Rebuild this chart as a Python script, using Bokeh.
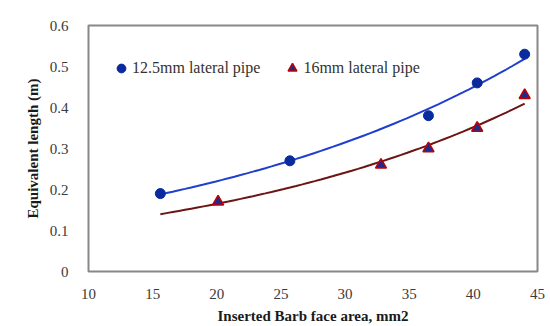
import numpy as np
from bokeh.plotting import figure
from bokeh.models import Legend, LegendItem, FixedTicker, ColumnDataSource
from bokeh.embed import file_html
from bokeh.resources import INLINE

# Data
x_125 = [15.6, 25.7, 36.5, 40.3, 44.0]
y_125 = [0.19, 0.27, 0.38, 0.46, 0.53]
x_16 = [20.1, 32.8, 36.5, 40.3, 44.0]
y_16 = [0.17, 0.26, 0.30, 0.35, 0.43]

x_ticks = [10, 15, 20, 25, 30, 35, 40, 45]
y_ticks = [0, 0.1, 0.2, 0.3, 0.4, 0.5, 0.6]
y_tick_labels = ["0", "0.1", "0.2", "0.3", "0.4", "0.5", "0.6"]

label_125 = "12.5mm lateral pipe"
label_16 = "16mm lateral pipe"
x_title = "Inserted Barb face area, mm2"
y_title = "Equivalent length (m)"

FONT = "Liberation Serif"

# Exponential trendlines fitted to the data (as in a spreadsheet trendline)
def exp_trend(xs, ys, x0, x1):
    b, a = np.polyfit(np.array(xs), np.log(np.array(ys)), 1)
    xx = np.linspace(x0, x1, 60)
    return xx, np.exp(a + b * xx)

x_lo = min(min(x_125), min(x_16))
x_hi = max(max(x_125), max(x_16))
tx1, ty1 = exp_trend(x_125, y_125, x_lo, x_hi)
tx2, ty2 = exp_trend(x_16, y_16, x_lo, x_hi)

W, H = 550, 326
BL, BR, BT, BB = 88, 13, 25, 52
XR = (10, 45)
YR = (0, 0.6)

p = figure(width=W, height=H, x_range=XR, y_range=YR,
           output_backend="svg", toolbar_location=None,
           min_border_left=BL, min_border_right=BR, min_border_top=BT,
           min_border_bottom=BB)

p.xgrid.visible = False
p.ygrid.visible = False
p.outline_line_color = "#888888"
p.outline_line_width = 2
p.background_fill_color = "white"
p.border_fill_color = "white"

for ax in (p.xaxis[0], p.yaxis[0]):
    ax.axis_line_color = None
    ax.major_tick_line_color = None
    ax.minor_tick_line_color = None
    ax.major_label_text_font = FONT
    ax.major_label_text_font_size = "15px"
    ax.major_label_text_color = "#3a3a3a"
    ax.axis_label_text_font = FONT
    ax.axis_label_text_font_style = "bold"
    ax.axis_label_text_font_size = "15px"
    ax.axis_label_text_color = "#1a1a1a"

p.xaxis.ticker = FixedTicker(ticks=x_ticks)
p.yaxis.ticker = FixedTicker(ticks=y_ticks)
p.yaxis.major_label_overrides = {t: l for t, l in zip(y_ticks, y_tick_labels)}
p.xaxis.axis_label = x_title
p.yaxis.axis_label = y_title
p.xaxis.major_label_standoff = 11
p.yaxis.major_label_standoff = 14
p.xaxis.axis_label_standoff = 6
p.yaxis.axis_label_standoff = 6

p.line(tx1, ty1, line_color="#1f3fcc", line_width=2)
p.line(tx2, ty2, line_color="#6b1515", line_width=2)

s1 = ColumnDataSource(dict(x=x_125, y=y_125))
s2 = ColumnDataSource(dict(x=x_16, y=y_16))
r1 = p.scatter("x", "y", source=s1, marker="circle", size=10,
               fill_color="#0a2a9e", line_color="#0a2a9e")
r2 = p.scatter("x", "y", source=s2, marker="triangle", size=11,
               fill_color="#1f2a8f", line_color="#c00000", line_width=1.5)

legend = Legend(items=[LegendItem(label=label_125, renderers=[r1]),
                       LegendItem(label=label_16, renderers=[r2])],
                orientation="horizontal", location=(22, 191),
                label_text_font=FONT, label_text_font_size="16px",
                label_text_color="#333333", glyph_width=22, glyph_height=24,
                label_standoff=-3, spacing=21, padding=0, margin=0,
                border_line_color=None, background_fill_alpha=0)
p.add_layout(legend)

# outer chart border (only its left and top edges fall inside the window),
# drawn as the frame of an otherwise invisible legend box
PAD = 600
ITEM_H = 20
ghost = p.line(x=[], y=[], line_alpha=0)
frame_box = Legend(items=[LegendItem(label=" ", renderers=[ghost])],
                   location=(12.5 - BL, (H - BB - 9.5) - (2 * PAD + ITEM_H)),
                   padding=PAD, margin=0, glyph_height=ITEM_H, label_height=ITEM_H,
                   label_text_font_size="1px", label_text_alpha=0,
                   border_line_color="black", border_line_width=2,
                   border_line_alpha=1.0, background_fill_alpha=0)
p.add_layout(frame_box)

open("out.html", "w").write(file_html(p, INLINE))
